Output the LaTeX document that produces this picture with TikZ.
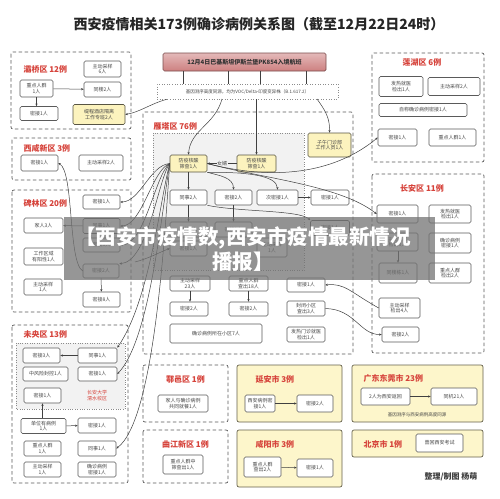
\documentclass[tikz,border=0pt]{standalone}
\usepackage{fontspec}
\setmainfont{Noto Sans CJK SC}
\usepackage{tikz}
\usetikzlibrary{positioning,arrows.meta,calc,backgrounds}
\definecolor{distc}{RGB}{214,66,58}
\definecolor{edgec}{RGB}{90,90,90}
\definecolor{inkc}{RGB}{70,70,70}
\definecolor{srcc}{RGB}{252,243,190}
\definecolor{cityc}{RGB}{253,246,203}
\definecolor{flightc}{RGB}{205,128,128}
\tikzset{
  case/.style     = {draw=edgec, line width=0.6pt, fill=white, rounded corners=1.5pt,
                     align=center, inner sep=0.5pt, text=inkc, font=\fontsize{5}{5.6}\selectfont},
  source/.style   = {case, fill=srcc, draw=srcc!35!black},
  area/.style     = {draw=edgec, line width=0.7pt, dash pattern=on 3.5pt off 2.5pt, rounded corners=2pt},
  campus/.style   = {draw=edgec!70, dotted, fill=black!5},
  city/.style     = {draw=srcc!40!black, line width=0.7pt, fill=cityc, rounded corners=2pt},
  distname/.style = {text=distc, font=\fontsize{8}{9}\selectfont\bfseries},
  note/.style     = {text=inkc, font=\fontsize{4.5}{5}\selectfont},
  link/.style     = {-{Stealth[length=2.6pt,width=2.2pt]}, draw=black!75, line width=0.5pt},
  tie/.style      = {draw=black!75, line width=0.5pt},
}

\begin{document}
\begin{tikzpicture}[x=1pt, y=-1pt]
\useasboundingbox (0,0) rectangle (500,498);
\fill[white] (0,0) rectangle (500,498);

% ---------- title and flight ----------
\node[font=\fontsize{14}{16}\selectfont\bfseries, text=black!85] (title) at (259,24)
  {西安疫情相关173例确诊病例关系图（截至12月22日24时）};
\node[draw=flightc!60!black, line width=0.7pt, top color=flightc!55, bottom color=flightc,
      rounded corners=1.5pt, minimum width=163, minimum height=18, inner sep=0pt,
      font=\fontsize{6}{7}\selectfont\bfseries, text=black!80] (pk) at (244.5,62)
  {12月4日巴基斯坦伊斯兰堡PK854入境航班};
\node[draw=black!45, dotted, line width=0.6pt, fill=white, minimum width=181, minimum height=15,
      inner sep=0pt, note] (gene) at (247.5,91.5)
  {基因测序高度同源，均为VOC/Delta-印度变异株（B.1.617.2）};
\foreach \gx in {183,228,260,306}
  \draw[tie] (\gx,71) -- (\gx,84);

% ---------- district frames ----------
\draw[area] (11,52) rectangle (131,129);
\draw[area] (12,138) rectangle (131,180);
\draw[area] (12,190) rectangle (131,312);
\draw[area] (12,325) rectangle (128,483);
\draw[campus] (16,343) rectangle (125,409);
\draw[area] (143,112) rectangle (353,354);
\draw[campus] (153,133) rectangle (304,270);
\draw[area] (372,53) rectangle (484,162);
\draw[area] (372,174) rectangle (484,353);
\draw[area] (143,365) rectangle (228,422);
\draw[area] (143,430) rectangle (228,483);
\draw[city] (237,365) rectangle (342,422);
\draw[city] (237,430) rectangle (342,487);
\draw[city] (352,365) rectangle (483,422);
\draw[city] (352,430) rectangle (483,457);

\node[distname, anchor=west] (bqname) at (20,69) {灞桥区 12例};
\node[distname, anchor=west] (xxname) at (20,148) {西咸新区 3例};
\node[distname, anchor=west] (blname) at (20,203) {碑林区 20例};
\node[distname, anchor=west] (wyname) at (20,334) {未央区 13例};
\node[distname, anchor=west] (ytname) at (150,126) {雁塔区 76例};
\node[distname] (lhname) at (422,62) {莲湖区 6例};
\node[distname] (caname) at (422,188) {长安区 11例};
\node[distname] (hyname) at (185.5,379) {鄠邑区 1例};
\node[distname] (qjname) at (185.5,444) {曲江新区 1例};
\node[distname, anchor=west] (yaname) at (252,379) {延安市 3例};
\node[distname, anchor=west] (xyname) at (252,444) {咸阳市 3例};
\node[distname, anchor=west] (dgname) at (360,378) {广东东莞市 23例};
\node[distname, anchor=west] (bjname) at (360,444) {北京市 1例};

% ---------- 灞桥区 ----------
\node[case, minimum width=37, minimum height=16] (bqzc) at (102.5,69) {主动采样\\6人};
\node[case, minimum width=33, minimum height=17] (bqzd) at (36.5,88.5) {重点人群\\1人};
\node[case, minimum width=37, minimum height=15] (bqtl) at (102.5,89.5) {同楼2人};
\node[case, minimum width=38, minimum height=14] (bqmj) at (39,113.5) {密接1人};
\node[source, minimum width=52, minimum height=20] (bqhotel) at (99,114.5) {缇程酒店隔离\\工作专班2人};
\draw[link] (bqzd) -- (bqtl);
\draw[link] (bqzd) -- (bqzd|-bqmj.north);

% ---------- 西咸新区 ----------
\node[case, minimum width=37, minimum height=16] (xxmj) at (39.5,163) {密接1人};
\node[case, minimum width=44, minimum height=16] (xxzc) at (101,163) {主动采样2人};

% ---------- 碑林区 ----------
\node[case, minimum width=37, minimum height=14] (blmj1) at (101.5,202) {密接1人};
\node[case, minimum width=39, minimum height=15] (bljr) at (43.5,225.5) {家人3人};
\node[case, minimum width=37, minimum height=15] (blts) at (101.5,226) {同事1人};
\node[case, minimum width=37, minimum height=14] (blmj3) at (101.5,245) {密接3人};
\node[case, minimum width=39, minimum height=17] (blgz) at (43.5,256.5) {工作区域\\有阳性1人};
\node[case, minimum width=36, minimum height=14] (blmj2) at (101,271) {密接2人};
\node[case, minimum width=38, minimum height=16] (blzc) at (43,287) {主动采样\\1人};
\node[case, minimum width=37, minimum height=15] (blmj8) at (101.5,299.5) {密接8人};
\draw[link] (blts) -- (bljr);
\draw[link] (blmj2) -- (blmj8);
\draw[link] (blmj2.west) .. controls (68,262) and (74,172) .. (xxmj.east);

% ---------- 未央区 ----------
\node[case, minimum width=37, minimum height=15] (wymj3) at (41.5,355.5) {密接3人};
\node[case, minimum width=39, minimum height=15] (wyts1) at (97.5,355.5) {同事1人};
\node[case, minimum width=45, minimum height=14] (wyfk) at (45.5,374) {中风险封控1人};
\node[case, minimum width=39, minimum height=14] (wymj1a) at (97.5,374) {密接1人};
\node[case, minimum width=37, minimum height=15] (wymj1b) at (42.5,395.5) {密接1人};
\node[text=distc, font=\fontsize{5}{6}\selectfont, align=center] (wycampus) at (97,396) {长安大学\\渭水校区};
\node[case, minimum width=45, minimum height=15] (wydw) at (43.5,426) {单位有病例\\1人};
\node[case, minimum width=38, minimum height=15] (wymj1c) at (97,425.5) {密接1人};
\node[case, minimum width=37, minimum height=15] (wyzd) at (42.5,448.5) {重点人群\\1人};
\node[case, minimum width=38, minimum height=15] (wyts2) at (97,448.5) {同事1人};
\node[case, minimum width=37, minimum height=15] (wyzc) at (42.5,469.5) {主动采样\\1人};
\node[case, minimum width=38, minimum height=15] (wyqz) at (97,469.5) {确诊病例\\密接1人};
\draw[link] (wyts1) -- (wymj3);
\draw[link] (wydw.north-|wymj1b) -- (wymj1b);
\draw[link] (wydw) -- (wymj1c);

% ---------- 雁塔区 ----------
\node[source, minimum width=37, minimum height=17] (ytfy1) at (188.5,163.5) {防疫核酸\\筛查1人};
\node[source, minimum width=39, minimum height=17] (ytfy2) at (256.5,163.5) {防疫核酸\\筛查1人};
\node[source, minimum width=43, minimum height=24] (ytzw) at (329.5,145) {子午门诊部\\工作人员1人};
\node[case, minimum width=37, minimum height=15] (ytts) at (188.5,197.5) {同事2人};
\node[case, minimum width=37, minimum height=15] (ytmj2) at (233.5,197.5) {密接2人};
\node[case, minimum width=41, minimum height=15] (ytcmj) at (277.5,197.5) {次密接1人};
\node[case, minimum width=38, minimum height=15] (ytmj1r) at (330,197.5) {密接1人};
\node[case, minimum width=37, minimum height=15] (ytmjx) at (188.5,229.5) {密接1人};
\node[case, minimum width=37, minimum height=15] (ytmjy) at (233.5,229.5) {密接1人};
\node[case, minimum width=39, minimum height=15] (ytmjz) at (330,228) {密接1人};
\node[case, minimum width=37, minimum height=15] (ytmj1a) at (188.5,248.5) {密接1人};
\node[case, minimum width=30, minimum height=19] (ytzc1) at (272,247.5) {主动采样\\1人};
\node[case, minimum width=40, minimum height=15] (ytzc23) at (190,283.5) {主动采样\\23人};
\node[case, minimum width=39, minimum height=15] (ytzd18) at (248.5,283.5) {重点人群\\查出18人};
\node[case, minimum width=38, minimum height=14] (ytmj1b) at (306,285) {密接1人};
\node[case, minimum width=38, minimum height=14] (ytmj2a) at (189,309) {密接2人};
\node[case, minimum width=39, minimum height=14] (ytmj2b) at (248.5,309) {密接2人};
\node[case, minimum width=38, minimum height=15] (ytfb) at (306,308.5) {封闭小区\\查出3人};
\node[case, minimum width=92, minimum height=19] (ytxq) at (216,333.5) {确诊病例所在小区7人};
\node[case, minimum width=38, minimum height=15] (ytfr) at (306,334.5) {发热门诊就医\\检出1人};
\draw[link] (ytfy2) -- node[fill=black!5, inner sep=0.5pt, font=\fontsize{5}{6}\selectfont, text=inkc] {女婿} (ytfy1);
\draw[link] (ytfy1) -- (ytts);
\draw[link] (ytfy1.south east) to[out=-15, in=90] (ytmj2.north);
\draw[link] (ytfy1.south east) .. controls (245,172) and (277,175) .. (ytcmj.north);
\draw[link] (ytcmj) -- (ytmj1r);
\draw[link] (ytts) -- (ytmjx);
\draw[link] (ytmj2) -- (ytmjy);
\draw[link] (ytts.south east) .. controls (240,212) and (300,210) .. (ytmjz.north west);
\draw[link] (ytzc23) -- (ytzc23|-ytmj2a.north);
\draw[link] (ytzd18) -- (ytmj2b);

% ---------- 莲湖区 ----------
\node[case, minimum width=44, minimum height=20] (lhfr) at (401,86.5) {发热就医\\检出1人};
\node[case, minimum width=52, minimum height=18] (lhzc) at (454,86.5) {主动采样2人};
\node[case, minimum width=88, minimum height=13] (lhzcq) at (423,110) {自称确诊病例密接1人};
\node[case, minimum width=39, minimum height=17] (lhmj) at (397.5,137.5) {密接1人};
\node[case, minimum width=47, minimum height=17] (lhzd) at (452.5,137.5) {重点人群1人};

% ---------- 长安区 ----------
\node[case, minimum width=41, minimum height=18] (camj) at (397.5,214) {密接1人};
\node[case, minimum width=42, minimum height=18] (cafr) at (450,214) {发热就医\\检出1人};
\node[case, minimum width=41, minimum height=18] (cajc) at (397.5,242) {主动采样\\检出3人};
\node[case, minimum width=42, minimum height=20] (caqz) at (450,243) {确诊病例\\密接1人};
\node[case, minimum width=38, minimum height=20] (catl) at (398,273) {同楼栋1人};
\node[case, minimum width=42, minimum height=20] (cazd) at (450,273) {重点人群\\检出2人};
\node[case, minimum width=41, minimum height=20] (cazc) at (399.5,308) {主动采样\\检出4人};
\node[case, minimum width=37, minimum height=15] (camj2) at (400.5,334.5) {密接2人};
\draw[link] (cajc.south-|catl) -- (catl);

% ---------- 鄠邑区 / 曲江新区 ----------
\node[case, minimum width=50, minimum height=17] (hyjr) at (183,403.5) {家人与确诊病例\\共同就餐1人};
\node[case, minimum width=40, minimum height=19] (qjzd) at (183,464.5) {重点人群中\\筛查出1人};

% ---------- other cities ----------
\node[case, minimum width=30, minimum height=17] (yamj) at (260,403.5) {西安病例密\\接1人};
\node[case, minimum width=36, minimum height=17] (yamj2) at (315,403.5) {密接2人};
\node[case, minimum width=37, minimum height=20] (xyzd) at (262.5,467) {重点人群\\查出2人};
\node[case, minimum width=36, minimum height=18] (xymj) at (315,468) {密接1人};
\node[case, minimum width=49, minimum height=17] (dgfh) at (385.5,396.5) {2人为西安返回};
\node[case, minimum width=46, minimum height=17] (dgtj) at (454,396.5) {同机21人};
\node[note] (dgnote) at (417,415) {基因测序与西安病例高度同源};
\node[case, minimum width=47, minimum height=18] (bjks) at (439.5,443) {曾回西安考试};
\draw[link] (yamj) -- (yamj2);
\draw[link] (xyzd) -- (xymj);
\draw[link] (dgfh) -- (dgtj);

% ---------- links from the flight ----------
\draw[link] ([xshift=10pt]gene.south west) .. controls (150,104) and (140,112) .. (bqhotel.east);
\draw[link] (222,99) .. controls (215,125) and (190,130) .. (ytfy1.north);
\draw[link] (ytfy2|-gene.south) -- (ytfy2);
\draw[link] (317,99) .. controls (325,110) and (330,118) .. (ytzw.north);

% ---------- cross-district links ----------
\draw[link] (ytfy1.west) .. controls (150,165) and (140,202) .. (blmj1.east);
\draw[link] (ytfy1.west) .. controls (152,170) and (142,226) .. (blts.east);
\draw[link] (ytfy1.west) .. controls (155,175) and (145,245) .. (blmj3.east);
\draw[link] (ytfy1.west) .. controls (158,180) and (148,262) .. (blmj2.north east);
\draw[link] (ytfy1.west) .. controls (160,200) and (150,300) .. (wyts1.north east);
\draw[link] (ytfy1.west) .. controls (162,210) and (150,340) .. (wymj1a.east);
\draw[link] (ytfy1.west) .. controls (165,230) and (155,420) .. (wyts2.east);
\draw[link] (ytfy1.east) .. controls (290,185) and (345,165) .. (lhmj.west);
\draw[link] (ytfy1.east) .. controls (260,178) and (340,185) .. (camj.west);
\draw[link] (cazc.west) .. controls (350,292) and (345,283) .. (ytmj1b.east);
\draw[link] (ytfb.east) .. controls (355,309) and (360,335) .. (camj2.west);
\draw[link] (135,262) .. controls (150,258) and (160,252) .. (ytmj1a.west);

% ---------- overlay banner ----------
\fill[black!55, opacity=0.75] (64,217) rectangle (435,280);
\node[text=white, align=center, font=\fontsize{20.5}{25}\selectfont\bfseries] (banner) at (243,249)
  {【西安市疫情数,西安市疫情最新情况\\播报】};

\node[anchor=east, font=\fontsize{8}{9}\selectfont\bfseries, text=black!75] (credit) at (481,477)
  {整理/制图\ 杨萌};
\end{tikzpicture}
\end{document}
